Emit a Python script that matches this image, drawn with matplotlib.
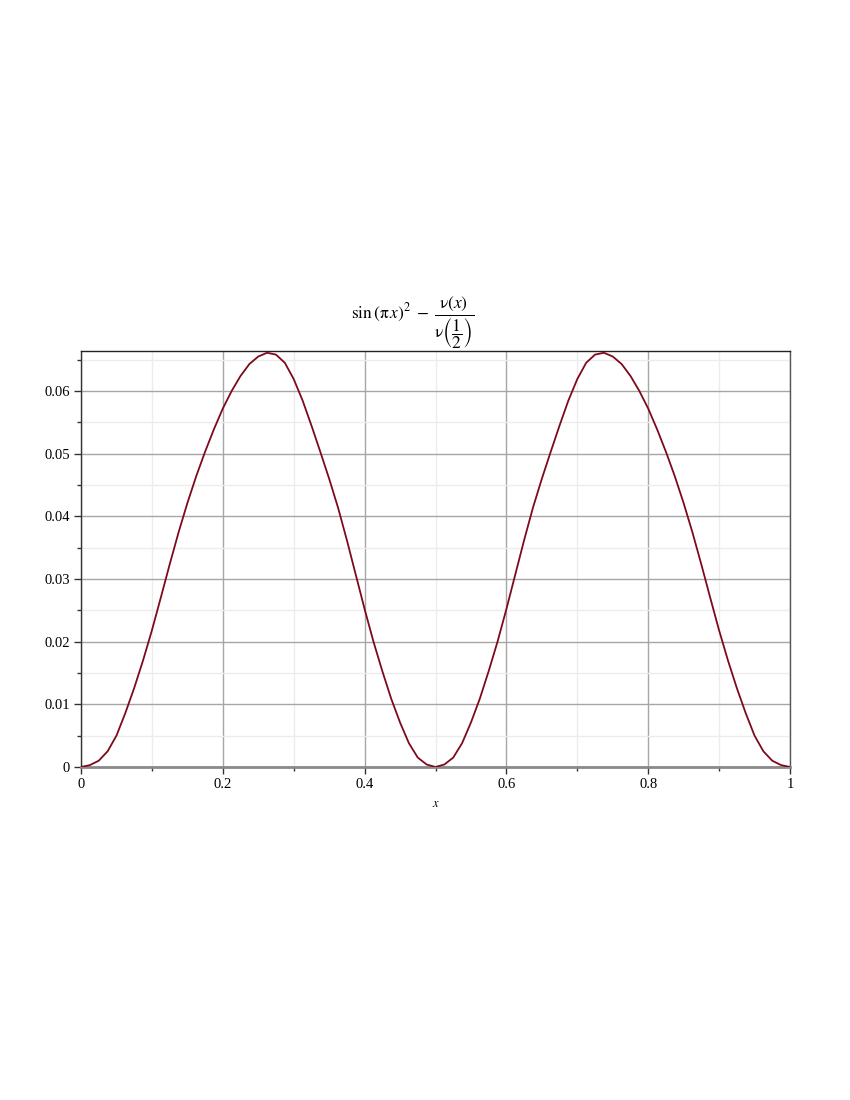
import matplotlib

matplotlib.use("agg")
import matplotlib.pyplot as plt
from matplotlib.ticker import MultipleLocator

# values (step 0.0125)
x_vals = [0.0, 0.0125, 0.025, 0.0375, 0.05, 0.0625, 0.075, 0.0875, 0.1, 0.1125,
          0.125, 0.1375, 0.15, 0.1625, 0.175, 0.1875, 0.2, 0.2125, 0.225, 0.2375,
          0.25, 0.2625, 0.275, 0.2875, 0.3, 0.3125, 0.325, 0.3375, 0.35, 0.3625,
          0.375, 0.3875, 0.4, 0.4125, 0.425, 0.4375, 0.45, 0.4625, 0.475, 0.4875,
          0.5, 0.5125, 0.525, 0.5375, 0.55, 0.5625, 0.575, 0.5875, 0.6, 0.6125,
          0.625, 0.6375, 0.65, 0.6625, 0.675, 0.6875, 0.7, 0.7125, 0.725, 0.7375,
          0.75, 0.7625, 0.775, 0.7875, 0.8, 0.8125, 0.825, 0.8375, 0.85, 0.8625,
          0.875, 0.8875, 0.9, 0.9125, 0.925, 0.9375, 0.95, 0.9625, 0.975, 0.9875,
          1.0]
y_vals = [0.0, 0.0003, 0.0010, 0.0025, 0.0050, 0.0086, 0.0126, 0.0170, 0.0218, 0.0270,
          0.0323, 0.0374, 0.0421, 0.0464, 0.0503, 0.0539, 0.0572, 0.0600, 0.0624, 0.0643,
          0.0655, 0.0661, 0.0658, 0.0645, 0.0619, 0.0585, 0.0545, 0.0503, 0.0460, 0.0414,
          0.0362, 0.0307, 0.0252, 0.0200, 0.0153, 0.0109, 0.0071, 0.0038, 0.0015, 0.0004,
          0.0, 0.0004, 0.0015, 0.0038, 0.0071, 0.0109, 0.0153, 0.0200, 0.0252, 0.0307,
          0.0362, 0.0414, 0.0460, 0.0503, 0.0545, 0.0585, 0.0619, 0.0645, 0.0658, 0.0661,
          0.0655, 0.0643, 0.0624, 0.0600, 0.0572, 0.0539, 0.0503, 0.0464, 0.0421, 0.0374,
          0.0323, 0.0270, 0.0218, 0.0170, 0.0126, 0.0086, 0.0050, 0.0025, 0.0010, 0.0003,
          0.0]

x_ticks = [0, 0.2, 0.4, 0.6, 0.8, 1]
x_tick_labels = ["0", "0.2", "0.4", "0.6", "0.8", "1"]
y_ticks = [0, 0.01, 0.02, 0.03, 0.04, 0.05, 0.06]
y_tick_labels = ["0", "0.01", "0.02", "0.03", "0.04", "0.05", "0.06"]

plt.rcParams["font.family"] = ["Liberation Serif", "DejaVu Serif"]
plt.rcParams["mathtext.fontset"] = "stix"

fig = plt.figure(figsize=(8.5, 11), dpi=100)
ax = fig.add_axes([81 / 850, 1 - 767 / 1100, (790 - 81) / 850, (767 - 351) / 1100])

ax.plot(x_vals, y_vals, color="#7d0a1c", linewidth=1.3, zorder=3)

ax.set_xlim(0, 1)
ax.set_ylim(0, 0.06638)
ax.set_xticks(x_ticks)
ax.set_xticklabels(x_tick_labels)
ax.set_yticks(y_ticks)
ax.set_yticklabels(y_tick_labels)
ax.xaxis.set_minor_locator(MultipleLocator(0.1))
ax.yaxis.set_minor_locator(MultipleLocator(0.005))

ax.grid(True, which="major", color="#a6a6a6", linewidth=1.0, zorder=1)
ax.grid(True, which="minor", color="#ececec", linewidth=1.0, zorder=0)
ax.set_axisbelow(True)

ax.tick_params(axis="both", which="major", direction="out", length=5, width=1,
               color="#333333", labelsize=10.5, pad=3)
ax.tick_params(axis="both", which="minor", direction="out", length=3, width=1,
               color="#333333")

ax.spines["top"].set_color("#222222")
ax.spines["left"].set_color("#333333")
ax.spines["right"].set_color("#555555")
ax.spines["bottom"].set_color("#8a8a8a")
ax.spines["bottom"].set_linewidth(2.0)
for side in ["top", "left", "right"]:
    ax.spines[side].set_linewidth(1.0)

ax.set_xlabel("$x$", fontsize=9, labelpad=5)

fig.text(413 / 850, 1 - 351 / 1100,
         r"$\sin\left(\mathrm{\pi}\,x\right)^{2}\;-\;"
         r"\dfrac{\mathrm{\nu}\left(x\right)}{\mathrm{\nu}\left(\dfrac{1}{2}\right)}$",
         ha="center", va="bottom", fontsize=12.5)

plt.savefig("out.png", dpi=100)
